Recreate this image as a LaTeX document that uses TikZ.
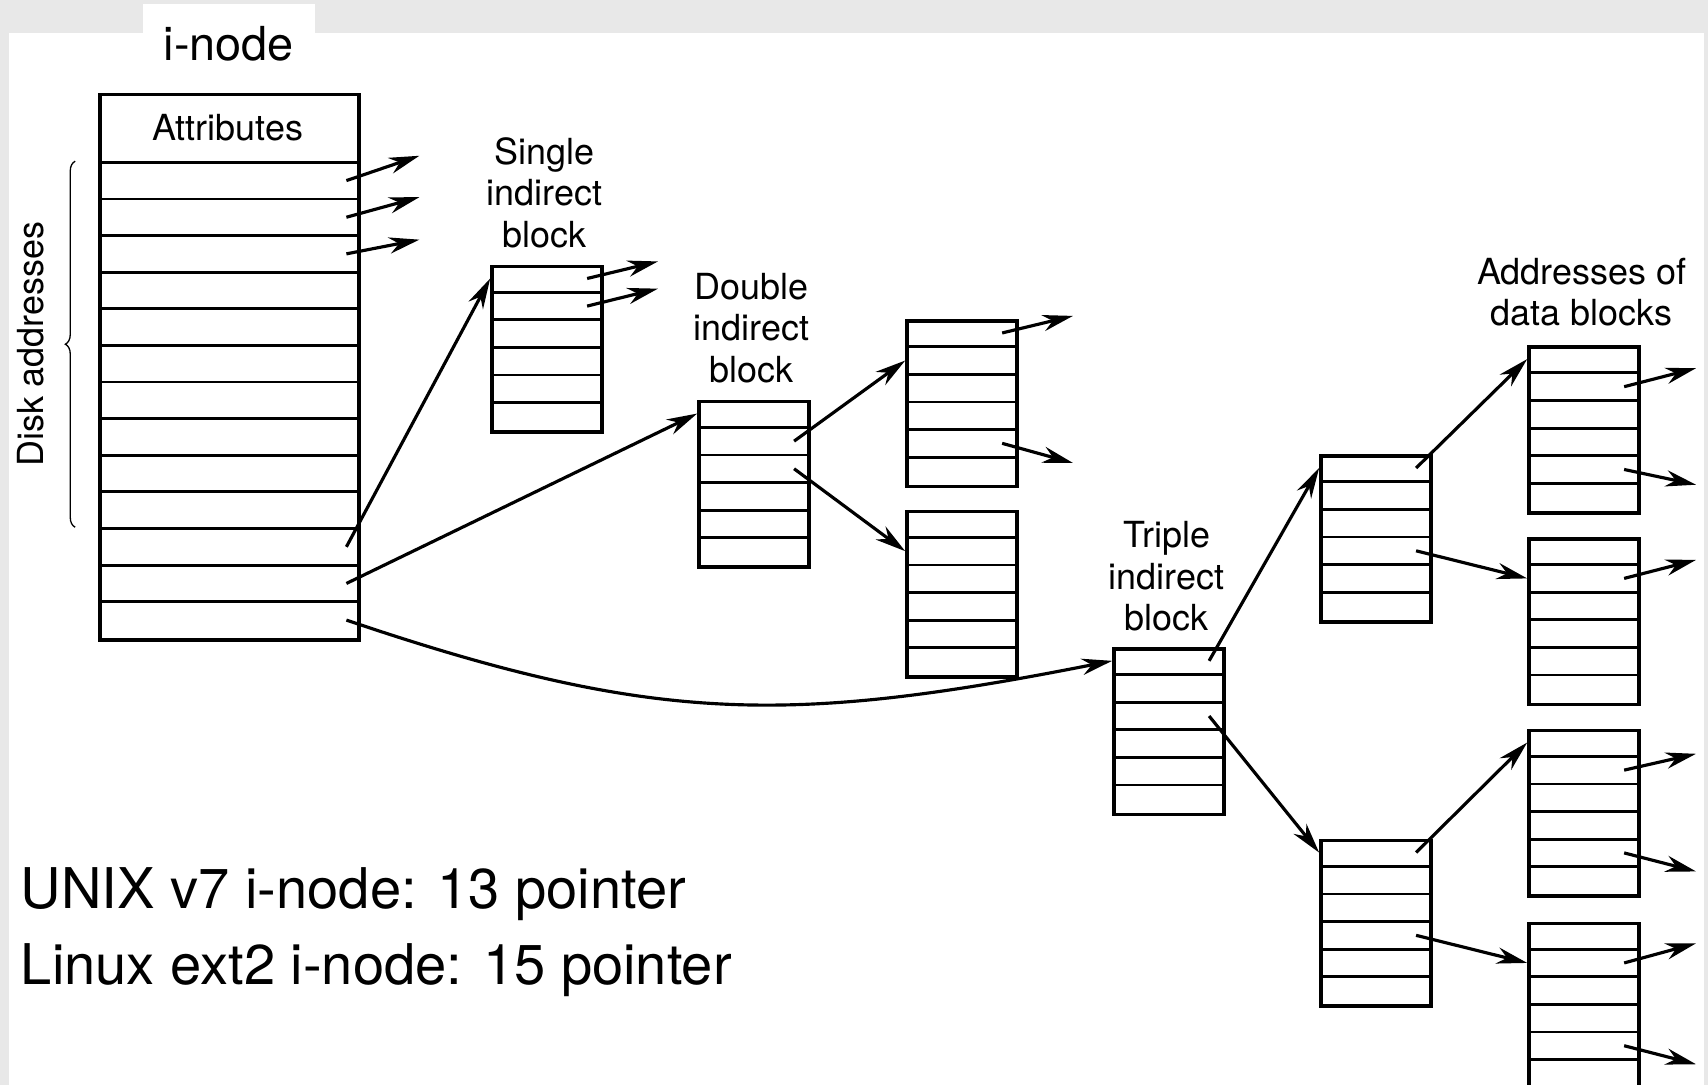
\documentclass[tikz,border=0pt]{standalone}
\usepackage{fontspec}
\setmainfont{TeX Gyre Heros}
\usetikzlibrary{arrows.meta,decorations.pathreplacing}
\definecolor{pagegray}{HTML}{E8E8E8}
\tikzset{
  blockbox/.style={draw, line width=3.4pt, line join=miter, rectangle, inner sep=0pt, anchor=north west},
  rowline/.style={line width=2.6pt},
  ptr/.style={line width=2.9pt, -{Stealth[length=28pt,width=15pt,inset=9pt]}},
  lbl/.style={font=\fontsize{33}{38}\selectfont, align=center, inner sep=0pt},
  biglbl/.style={font=\fontsize{51.5}{60}\selectfont, inner sep=0pt, anchor=base west},
}
% pointer block: name, left x, top y (six slots, 25.33 high, 101 wide)
\newcommand{\ptrblock}[3]{%
  \node[blockbox, minimum width=101pt, minimum height=152pt] (#1) at (#2,#3) {};
  \foreach \k in {1,...,5}
    \draw[rowline] (#2, {#3+\k*25.33}) -- ({#2+101}, {#3+\k*25.33});
  \foreach \k in {1,...,6} {
    \coordinate (#1-l\k) at (#2, {#3+(\k-0.5)*25.33});
    \coordinate (#1-r\k) at ({#2+89}, {#3+(\k-0.5)*25.33});
  }
}
\begin{document}
\begin{tikzpicture}[x=1pt,y=-1pt]
  % page background with the white sheet and its tab
  \fill[pagegray] (0,0) rectangle (1568,996);
  \fill[white] (8,30) rectangle (1564,996);
  \fill[white] (131,4) rectangle (289,30);
  \useasboundingbox (0,0) rectangle (1568,996);

  \node[font=\fontsize{43}{50}\selectfont, inner sep=0pt] (title) at (210,40) {i-node};

  % the i-node: attributes and 13 disk addresses
  \node[blockbox, minimum width=238pt, minimum height=501pt] (inode) at (90,85) {};
  \node[lbl] (attr) at (209,117) {Attributes};
  \foreach \k in {0,...,12}
    \draw[rowline] (90, {149+\k*33.62}) -- (328, {149+\k*33.62});
  \foreach \k in {1,...,13}
    \coordinate (inode-r\k) at (318, {149+(\k-0.5)*33.62});

  \draw[line width=1.2pt, decorate, decoration={brace, amplitude=9pt}] (69,484) -- (69,148);
  \node[lbl, rotate=90] (disk) at (28,316) {Disk addresses};

  % direct pointers
  \coordinate (d1) at (385,143);
  \coordinate (d2) at (385,181);
  \coordinate (d3) at (385,220);
  \draw[ptr] (inode-r1) -- (d1);
  \draw[ptr] (inode-r2) -- (d2);
  \draw[ptr] (inode-r3) -- (d3);

  % single indirect
  \ptrblock{single}{450}{243}
  \node[lbl] (singlelbl) at (500,177) {Single\\indirect\\block};
  \coordinate (s1) at (604,240);
  \coordinate (s2) at (604,265);
  \draw[ptr] (single-r1) -- (s1);
  \draw[ptr] (single-r2) -- (s2);

  % double indirect
  \ptrblock{double}{640}{367}
  \node[lbl] (doublelbl) at (690,301) {Double\\indirect\\block};
  \ptrblock{dup}{831}{293}
  \ptrblock{dlow}{831}{468}
  \coordinate (du1) at (985,290);
  \coordinate (du5) at (985,425);
  \draw[ptr] (dup-r1) -- (du1);
  \draw[ptr] (dup-r5) -- (du5);

  % triple indirect
  \ptrblock{triple}{1021}{594}
  \node[lbl] (triplelbl) at (1071,529) {Triple\\indirect\\block};
  \ptrblock{tup}{1211}{417}
  \ptrblock{tlow}{1211}{770}
  \ptrblock{ta}{1402}{317}
  \ptrblock{tb}{1402}{493}
  \ptrblock{tc}{1402}{669}
  \ptrblock{td}{1402}{846}
  \node[lbl] (datalbl) at (1452,268) {Addresses of\\data blocks};

  % pointers from the i-node to the indirect blocks
  \draw[ptr] (inode-r11) -- (single-l1);
  \draw[ptr] (inode-r12) -- (double-l1);
  \draw[ptr] (inode-r13) .. controls (598,664) and (721,666) .. (triple-l1);

  \draw[ptr] (double-r2) -- (dup-l2);
  \draw[ptr] (double-r3) -- (dlow-l2);

  \draw[ptr] (triple-r1) -- (tup-l1);
  \draw[ptr] (triple-r3) -- (tlow-l1);
  \draw[ptr] (tup-r1) -- (ta-l1);
  \draw[ptr] (tup-r4) -- (tb-l2);
  \draw[ptr] (tlow-r1) -- (tc-l1);
  \draw[ptr] (tlow-r4) -- (td-l2);

  % pointers to data blocks
  \coordinate (ta2) at (1557,338);
  \coordinate (ta5) at (1557,445);
  \coordinate (tb2) at (1557,514);
  \coordinate (tc2) at (1557,692);
  \coordinate (tc5) at (1557,800);
  \coordinate (td2) at (1557,866);
  \coordinate (td5) at (1557,977);
  \draw[ptr] (ta-r2) -- (ta2);
  \draw[ptr] (ta-r5) -- (ta5);
  \draw[ptr] (tb-r2) -- (tb2);
  \draw[ptr] (tc-r2) -- (tc2);
  \draw[ptr] (tc-r5) -- (tc5);
  \draw[ptr] (td-r2) -- (td2);
  \draw[ptr] (td-r5) -- (td5);

  % notes
  \node[biglbl] (unix) at (19,834) {UNIX v7 i-node: 13 pointer};
  \node[biglbl] (linux) at (19,904) {Linux ext2 i-node: 15 pointer};
\end{tikzpicture}
\end{document}
